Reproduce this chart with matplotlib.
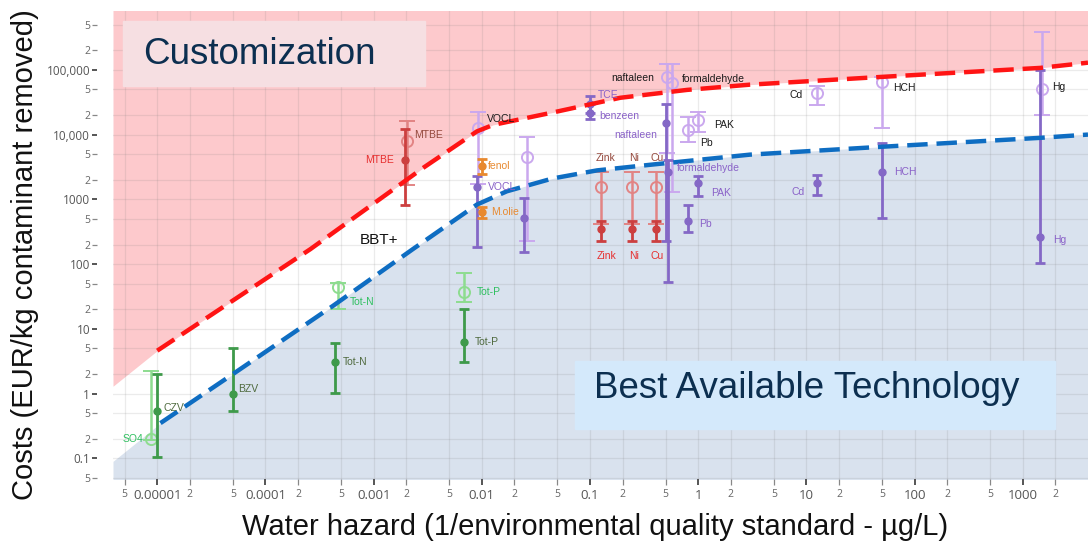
import numpy as np
import matplotlib
matplotlib.use("Agg")
import matplotlib.pyplot as plt
from matplotlib.ticker import FixedLocator, FixedFormatter
from matplotlib.patches import Rectangle

W, H = 1088, 545

# boundary curves (first point = left edge of the plot, only used for the fill)
red_x = [3.9e-6, 1e-5, 2.6e-4, 2.9e-3, 9.0e-3, 0.0127, 0.045, 0.19, 0.79, 3.0, 51, 1435, 4000]
red_y = [1.3, 4.6, 170, 3100, 11200, 14100, 21900, 37000, 49000, 59000, 78000, 107000, 129000]
blue_x = [3.9e-6, 1.07e-5, 5e-5, 4.2e-4, 2.3e-3, 9.0e-3, 0.017, 0.045, 0.116, 0.38, 3.0, 51, 1435, 4000]
blue_y = [0.09, 0.35, 2.0, 22.6, 170, 830, 1330, 2100, 2800, 3450, 4900, 6500, 8900, 10000]

# green: nutrients / general parameters
gl_names = ["SO4", "Tot-N", "Tot-P"]
gl_x = [8.8e-6, 4.7e-4, 6.9e-3]
gl_y = [0.2, 45, 37]
gl_lo = [0.19, 20.4, 26]
gl_hi = [2.26, 51, 72]

gd_names = ["CZV", "BZV", "Tot-N", "Tot-P"]
gd_x = [1e-5, 5e-5, 4.4e-4, 6.9e-3]
gd_y = [0.53, 1.0, 3.1, 6.3]
gd_lo = [0.104, 0.53, 1.03, 3.1]
gd_hi = [2.03, 5.1, 6.1, 20.4]

# red: MTBE and metals
rl_names = ["MTBE", "Zink", "Ni", "Cu"]
rl_x = [2.05e-3, 0.126, 0.244, 0.41]
rl_y = [8100, 1530, 1530, 1530]
rl_lo = [1640, 412, 412, 412]
rl_hi = [16400, 2600, 2600, 2600]

rd_names = ["MTBE", "Zink", "Ni", "Cu"]
rd_x = [1.95e-3, 0.126, 0.244, 0.41]
rd_y = [4000, 345, 345, 345]
rd_lo = [830, 226, 226, 226]
rd_hi = [12000, 460, 460, 460]

# orange
or_names = ["fenol", "M.olie"]
or_x = [0.0101, 0.0101]
or_y = [3240, 630]
or_lo = [2430, 510]
or_hi = [4270, 754]

# purple: organics and heavy metals
pl_names = ["VOCL", "", "naftaleen", "formaldehyde", "PAK", "Pb", "Cd", "HCH", "Hg"]
pl_x = [9.25e-3, 0.026, 0.51, 0.57, 1.0, 0.8, 12.5, 50, 1500]
pl_y = [12800, 4570, 78000, 63000, 17000, 11900, 44300, 65000, 51000]
pl_lo = [1700, 226, 5250, 1280, 11100, 7750, 29000, 12800, 20300]
pl_hi = [22600, 9330, 124000, 124000, 22600, 18900, 56700, 78000, 385000]

pd_names = ["VOCL", "", "TCE", "benzeen", "naftaleen", "formaldehyde", "PAK", "Pb", "Cd", "HCH", "Hg"]
pd_x = [9.0e-3, 0.0243, 0.1, 0.1, 0.5, 0.53, 1.0, 0.81, 12.5, 50, 1440]
pd_y = [1530, 510, 30000, 21800, 15000, 2600, 1760, 460, 1760, 2600, 260]
pd_lo = [182, 153, 21800, 17500, 226, 52, 1110, 310, 1150, 510, 103]
pd_hi = [2260, 1035, 40000, 30000, 30000, 4000, 2260, 810, 2340, 7530, 100000]

x_major = [1e-5, 1e-4, 1e-3, 1e-2, 0.1, 1, 10, 100, 1000]
x_major_labels = ["0.00001", "0.0001", "0.001", "0.01", "0.1", "1", "10", "100", "1000"]
y_major = [0.1, 1, 10, 100, 1000, 1e4, 1e5]
y_major_labels = ["0.1", "1", "10", "100", "1000", "10,000", "100,000"]

# label offsets in pixels (dx, dy, ha)
gl_off = [(-8, 0, "right"), (12, -15, "left"), (12, 0, "left")]
gd_off = [(6, 3, "left"), (5, 5, "left"), (8, 0, "left"), (10, 0, "left")]
rl_off = [(7, 6, "left"), (5, 29, "center"), (2, 29, "center"), (1, 29, "center")]
rd_off = [(-11, 0, "right"), (6, -27, "center"), (2, -27, "center"), (1, -27, "center")]
or_off = [(6, 0, "left"), (9, 0, "left")]
pl_off = [(9, 9, "left"), (0, 0, "left"), (-12, -1, "right"), (10, 4, "left"), (16, -5, "left"),
          (12, -13, "left"), (-14, -2, "right"), (11, -6, "left"), (10, 2, "left")]
pd_off = [(11, 0, "left"), (0, 0, "left"), (8, 9, "left"), (9, -3, "left"), (-9, -12, "right"),
          (8, 4, "left"), (13, -10, "left"), (11, -3, "left"), (-12, -9, "right"), (12, 0, "left"),
          (13, -3, "left")]


def fx(px):
    return px / W


def fy(py):
    return 1 - py / H


fig = plt.figure(figsize=(W / 100, H / 100), dpi=100)
ax = fig.add_axes([fx(113), fy(479), fx(1088) - fx(113), fy(11) - fy(479)])
ax.set_xscale("log")
ax.set_yscale("log")
ax.set_xlim(3.9e-6, 4000)
ax.set_ylim(0.048, 8.1e5)

# background regions
ax.fill_between(red_x, red_y, 1e7, color="#fdc9cc", lw=0, zorder=0.1)
ax.fill_between(blue_x, 1e-3, blue_y, color="#d9e2ee", lw=0, zorder=0.1)

ax.plot(red_x[1:], red_y[1:], color="#ff1414", lw=3.2, ls=(0, (4.6, 2.0)), zorder=5)
ax.plot(blue_x[1:], blue_y[1:], color="#0e6dc2", lw=3.2, ls=(0, (4.6, 2.0)), zorder=5)


def draw(xs, ys, lo, hi, names, offs, color, lcolor, hollow):
    ys = np.array(ys)
    yerr = [ys - np.array(lo), np.array(hi) - ys]
    if hollow:
        ax.errorbar(xs, ys, yerr=yerr, fmt="o", color=color, ms=8, mfc="none", mew=1.4,
                    elinewidth=1.8, capsize=6, capthick=1.8, zorder=3)
    else:
        ax.errorbar(xs, ys, yerr=yerr, fmt="o", color=color, ms=5, elinewidth=2,
                    capsize=3.8, capthick=2, zorder=3.5)
    for x, y, n, (dx, dy, ha) in zip(xs, ys, names, offs):
        if n:
            ax.annotate(n, (x, y), xytext=(dx, dy), textcoords="offset pixels",
                        ha=ha, va="center", fontsize=7.5, color=lcolor,
                        family="Liberation Sans", zorder=6)


draw(gl_x, gl_y, gl_lo, gl_hi, gl_names, gl_off, "#8ddc8f", "#2fbf5f", True)
draw(gd_x, gd_y, gd_lo, gd_hi, gd_names, gd_off, "#3e9a4a", "#4f6a3e", False)
draw(pl_x, pl_y, pl_lo, pl_hi, pl_names, pl_off, "#caa8ee", "#1a1a1a", True)
draw(pd_x, pd_y, pd_lo, pd_hi, pd_names, pd_off, "#8468c6", "#8a62c8", False)
draw(rl_x, rl_y, rl_lo, rl_hi, rl_names, rl_off, "#e28484", "#94483c", True)
draw(rd_x, rd_y, rd_lo, rd_hi, rd_names, rd_off, "#cc3f3f", "#e62e2e", False)
draw(or_x, or_y, or_lo, or_hi, or_names, or_off, "#e8892f", "#e8892f", False)

fig.text(fx(379), fy(240), "BBT+", fontsize=11, family="Liberation Sans",
         ha="center", va="center", color="#111111")

# ticks
x_minor = [m * 10.0 ** k for k in range(-6, 4) for m in (2, 5)]
y_minor = [m * 10.0 ** k for k in range(-2, 6) for m in (2, 5)]
ax.xaxis.set_major_locator(FixedLocator(x_major))
ax.xaxis.set_major_formatter(FixedFormatter(x_major_labels))
ax.xaxis.set_minor_locator(FixedLocator(x_minor))
ax.xaxis.set_minor_formatter(FixedFormatter([str(int(round(v / 10 ** np.floor(np.log10(v))))) for v in x_minor]))
ax.yaxis.set_major_locator(FixedLocator(y_major))
ax.yaxis.set_major_formatter(FixedFormatter(y_major_labels))
ax.yaxis.set_minor_locator(FixedLocator(y_minor))
ax.yaxis.set_minor_formatter(FixedFormatter([str(int(round(v / 10 ** np.floor(np.log10(v))))) for v in y_minor]))

for s in ax.spines.values():
    s.set_visible(False)
ax.spines["left"].set_position(("outward", 11.5))

ax.tick_params(axis="x", which="major", length=4.5, width=1.4, color="#555555", pad=3,
               labelsize=9.5, labelcolor="#555555")
ax.tick_params(axis="x", which="minor", length=4.5, width=0.9, color="#888888", pad=3,
               labelsize=7.5, labelcolor="#666666")
ax.tick_params(axis="y", which="major", length=3.5, width=1.4, color="#555555", pad=1.5,
               labelsize=8.5, labelcolor="#555555")
ax.tick_params(axis="y", which="minor", length=3.5, width=0.9, color="#888888", pad=1.5,
               labelsize=7.5, labelcolor="#666666")
for lab in ax.get_xticklabels(which="both") + ax.get_yticklabels(which="both"):
    lab.set_family("Open Sans")

ax.set_axisbelow(True)
ax.grid(which="both", color="#7a7a7a", alpha=0.15, lw=0.9, zorder=0.5)

# region captions
fig.patches.append(Rectangle((fx(123), fy(86)), fx(425) - fx(123), fy(21) - fy(86),
                             transform=fig.transFigure, color="#f6dfe2", zorder=8))
fig.text(fx(143), fy(54), "Customization", fontsize=26.5, family="Liberation Sans",
         color="#0c2f50", va="center", ha="left", zorder=9)
fig.patches.append(Rectangle((fx(575), fy(429)), fx(1055) - fx(575), fy(361) - fy(429),
                             transform=fig.transFigure, color="#d4e9fb", zorder=8))
fig.text(fx(594), fy(389), "Best Available Technology", fontsize=26.5, family="Liberation Sans",
         color="#0c2f50", va="center", ha="left", zorder=9)

fig.text(fx(25), fy(255), "Costs (EUR/kg contaminant removed)", rotation=90, fontsize=21,
         family="Liberation Sans", ha="center", va="center", color="#111111")
fig.text(fx(595), fy(527), "Water hazard (1/environmental quality standard - µg/L)", fontsize=21,
         family="Liberation Sans", ha="center", va="center", color="#111111")

fig.savefig("out.png", dpi=100)
